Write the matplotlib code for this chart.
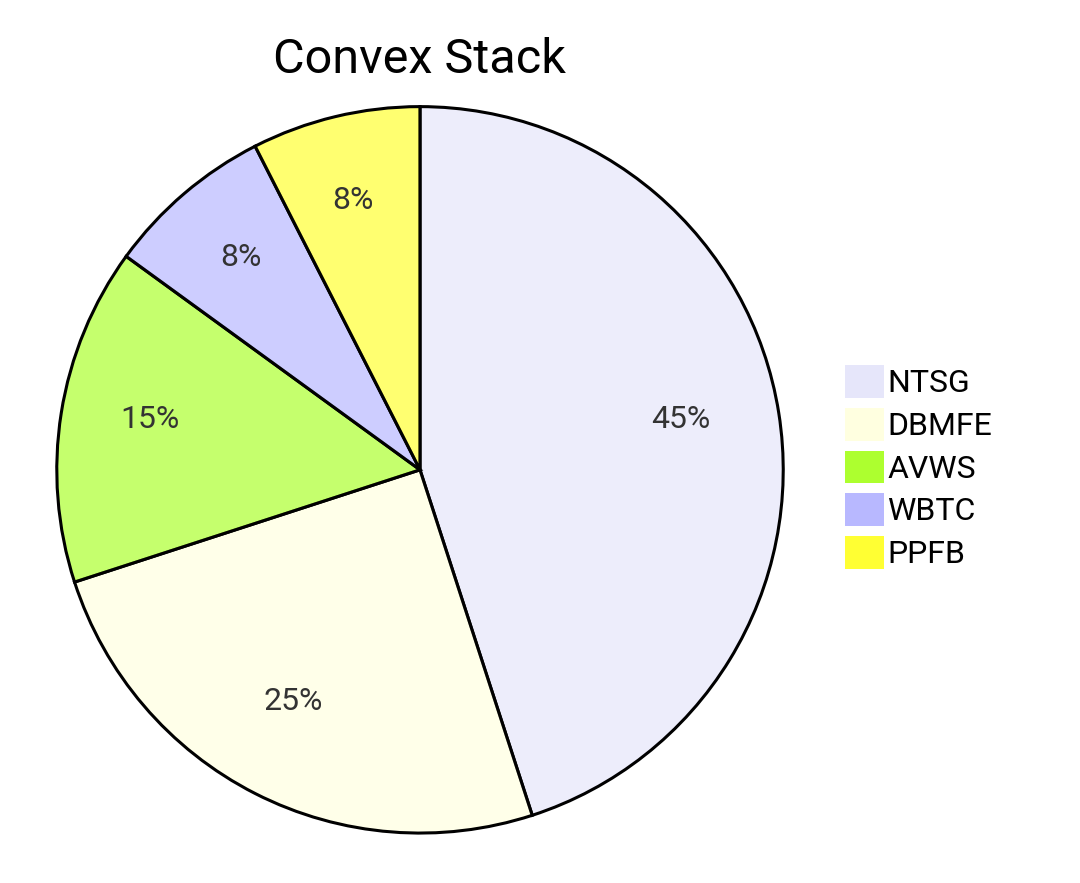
import matplotlib.pyplot as plt
from matplotlib.colors import to_rgba
from matplotlib.patches import Patch

plt.rcParams['font.family'] = ['Roboto', 'DejaVu Sans']

# data
labels = ["NTSG", "DBMFE", "AVWS", "WBTC", "PPFB"]
shares = [45, 25, 15, 7.5, 7.5]
colors = ["#e6e6fa", "#ffffe0", "#adff2f", "#b8b8ff", "#ffff33"]

fig = plt.figure(figsize=(10.8, 8.83), dpi=100)
ax = fig.add_axes([0.0509, 0.0544, 0.676, 0.827])

faded = [to_rgba(c, 0.7) for c in colors]
wedges, texts, autotexts = ax.pie(
    shares, colors=faded, startangle=90, counterclock=False,
    autopct="%.0f%%", pctdistance=0.74,
    wedgeprops=dict(edgecolor="black", linewidth=2.2),
    textprops=dict(fontsize=23, color="#333333"),
)
# labels sit a little higher in the original
for t in autotexts:
    x, y = t.get_position()
    t.set_position((x - 0.012, y + 0.022))
ax.set_xlim(-1.005, 1.005)
ax.set_ylim(-1.005, 1.005)
ax.set_aspect("equal")

fig.text(0.388, 0.932, "Convex Stack", ha="center", va="center", fontsize=35)

handles = [Patch(facecolor=c, edgecolor="none") for c in colors]
fig.legend(handles, labels, loc="center left", bbox_to_anchor=(0.756, 0.471),
           frameon=False, fontsize=23, handlelength=1.2, handleheight=1.2,
           handletextpad=0.12, labelspacing=0.3)

fig.savefig("out.png", dpi=100)
